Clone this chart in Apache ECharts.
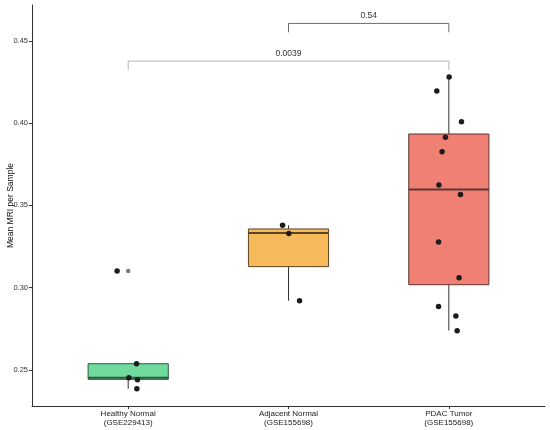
<!DOCTYPE html>
<html>
<head>
<meta charset="utf-8">
<script src="https://cdn.jsdelivr.net/npm/echarts@6/dist/echarts.min.js"></script>
<style>html,body{margin:0;padding:0;background:#fff}#c{width:550px;height:430px}</style>
</head>
<body>
<div id="c"></div>
<script>
// Categories
const categories = ['Healthy Normal\n(GSE229413)', 'Adjacent Normal\n(GSE155698)', 'PDAC Tumor\n(GSE155698)'];
const boxColors = ['#6FDA9C', '#F6BA5A', '#F07F74'];
const boxBorders = ['#2E5A40', '#5C4525', '#5E3532'];
// Box stats: [min, Q1, median, Q3, max] (whisker ends)
const healthyBox = [0.2386, 0.2443, 0.2453, 0.2538, 0.2538];
const adjacentBox = [0.2921, 0.3128, 0.3333, 0.3357, 0.3379];
const pdacBox = [0.2739, 0.3018, 0.3597, 0.3934, 0.4280];
// Outliers
const healthyOutliers = [0.3101];
// Sample points (values) and jittered x positions
const healthyValues = [0.3101, 0.2538, 0.2453, 0.2441, 0.2386];
const healthyJitter = [0.931, 1.052, 1.004, 1.058, 1.054];
const adjacentValues = [0.3379, 0.3330, 0.2921];
const adjacentJitter = [1.963, 2.002, 2.069];
const pdacValues = [0.4280, 0.4195, 0.4008, 0.3914, 0.3826, 0.3624, 0.3567, 0.3278, 0.3061, 0.2885, 0.2828, 0.2739];
const pdacJitter = [3.002, 2.925, 3.079, 2.979, 2.958, 2.938, 3.073, 2.936, 3.064, 2.936, 3.044, 3.052];
// Significance brackets: [from, to, yTop, yTickEnd, label]
const brackets = [
  [1, 3, 0.4377, 0.4323, '0.0039', '#b5b5b5'],
  [2, 3, 0.4606, 0.4552, '0.54', '#6e6e6e']
];
const yTicks = [0.25, 0.30, 0.35, 0.40, 0.45];

const boxes = [healthyBox, adjacentBox, pdacBox].map((b, i) => [i + 1].concat(b));
const points = [];
[[healthyJitter, healthyValues], [adjacentJitter, adjacentValues], [pdacJitter, pdacValues]].forEach(([xs, vs]) => {
  vs.forEach((v, k) => points.push([xs[k], v]));
});
const outlierPts = healthyOutliers.map(v => [1, v]);

const FONT = 'Liberation Sans';
const chart = echarts.init(document.getElementById('c'));
chart.setOption({
  animation: false,
  grid: {left: 32, right: 5, top: 5, bottom: 24, containLabel: false, outerBoundsMode: 'none'},
  xAxis: {
    type: 'value', min: 0.4, max: 3.6,
    splitLine: {show: false},
    axisLine: {show: true, lineStyle: {color: '#333', width: 1}},
    axisTick: {show: true, length: 3, customValues: [1, 2, 3], lineStyle: {color: '#333'}},
    axisLabel: {
      customValues: [1, 2, 3], margin: 3,
      formatter: v => categories[Math.round(v) - 1] || '',
      fontFamily: FONT, fontSize: 8, color: '#222', lineHeight: 9
    }
  },
  yAxis: {
    type: 'value', min: 0.2281, max: 0.4718,
    name: 'Mean MRI per Sample', nameLocation: 'middle', nameGap: 17, nameMoveOverlap: false,
    nameTextStyle: {fontFamily: FONT, fontSize: 8.5, color: '#111'},
    splitLine: {show: false},
    axisLine: {show: true, lineStyle: {color: '#333', width: 1}},
    axisTick: {show: true, length: 3, customValues: yTicks, lineStyle: {color: '#333'}},
    axisLabel: {
      customValues: yTicks, margin: 4,
      formatter: v => v.toFixed(2),
      fontFamily: FONT, fontSize: 7.5, color: '#333'
    }
  },
  series: [
    {
      type: 'custom',
      data: boxes,
      encode: {x: 0, y: [1, 2, 3, 4, 5]},
      renderItem: function (params, api) {
        const x = api.value(0);
        const i = params.dataIndex;
        const pMin = api.coord([x, api.value(1)]);
        const pMax = api.coord([x, api.value(5)]);
        const tl = api.coord([x - 0.25, api.value(4)]);
        const br = api.coord([x + 0.25, api.value(2)]);
        const mL = api.coord([x - 0.25, api.value(3)]);
        const mR = api.coord([x + 0.25, api.value(3)]);
        return {
          type: 'group',
          children: [
            {type: 'line', shape: {x1: pMin[0], y1: pMin[1], x2: pMin[0], y2: br[1]}, style: {stroke: '#333', lineWidth: 1}},
            {type: 'line', shape: {x1: pMax[0], y1: pMax[1], x2: pMax[0], y2: tl[1]}, style: {stroke: '#333', lineWidth: 1}},
            {type: 'rect', shape: {x: tl[0], y: tl[1], width: br[0] - tl[0], height: br[1] - tl[1]},
              style: {fill: boxColors[i], stroke: boxBorders[i], lineWidth: 1}},
            {type: 'line', shape: {x1: mL[0], y1: mL[1], x2: mR[0], y2: mR[1]}, style: {stroke: boxBorders[i], lineWidth: 2}}
          ]
        };
      },
      z: 2
    },
    {
      type: 'scatter', data: outlierPts, symbolSize: 4.5,
      itemStyle: {color: '#7a7a7a', opacity: 1}, z: 3
    },
    {
      type: 'scatter', data: points, symbolSize: 5.5,
      itemStyle: {color: '#1c1c1c', opacity: 1}, z: 4
    },
    {
      type: 'custom',
      data: brackets.map(b => [b[0], b[1], b[2], b[3]]),
      encode: {x: [0, 1], y: [2, 3]},
      renderItem: function (params, api) {
        const b = brackets[params.dataIndex];
        const a1 = api.coord([b[0], b[3]]);
        const a2 = api.coord([b[0], b[2]]);
        const a3 = api.coord([b[1], b[2]]);
        const a4 = api.coord([b[1], b[3]]);
        const mid = api.coord([(b[0] + b[1]) / 2, b[2]]);
        return {
          type: 'group',
          children: [
            {type: 'polyline', shape: {points: [a1, a2, a3, a4]}, style: {stroke: b[5], lineWidth: 1, fill: null}},
            {type: 'text', x: mid[0], y: mid[1] - 3,
              style: {text: b[4], textAlign: 'center', textVerticalAlign: 'bottom', fontFamily: FONT, fontSize: 8.5, fill: '#333'}}
          ]
        };
      },
      z: 5
    }
  ]
});
</script>
</body>
</html>
